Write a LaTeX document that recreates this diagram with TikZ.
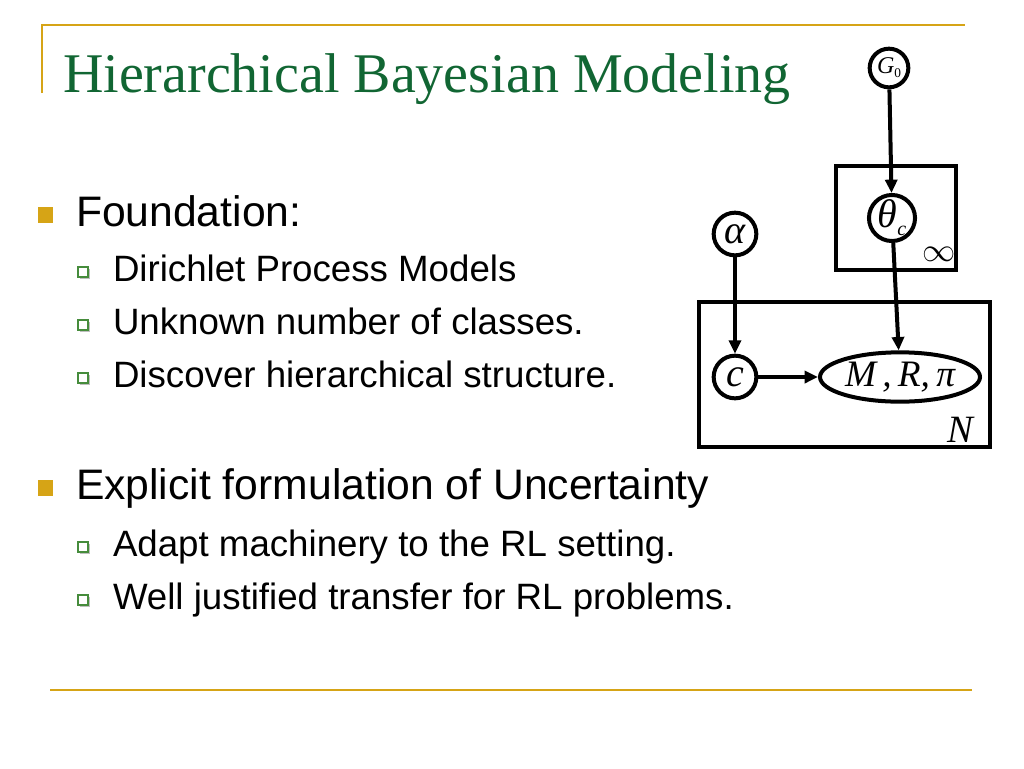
\documentclass[tikz,border=0pt]{standalone}
\usepackage{fontspec}
\setmainfont{Liberation Sans}
\newfontfamily\titlefont{Liberation Serif}
\usetikzlibrary{arrows.meta,shapes.geometric}
\definecolor{gold}{RGB}{214,164,22}
\definecolor{titlegreen}{RGB}{17,102,51}
\definecolor{subgreen}{RGB}{70,140,60}
\tikzset{
  txt/.style={anchor=base west,inner sep=0pt,outer sep=0pt},
  var/.style={circle,draw,minimum size=32pt,inner sep=0pt,font=\titlefont\itshape\fontsize{30}{30}\selectfont},
  link/.style={-{Triangle[length=10pt,width=9pt]}}
}
\begin{document}
\begin{tikzpicture}[x=0.75pt,y=0.75pt,yscale=-1,line width=3pt]
\useasboundingbox (0,0) rectangle (1024,768);

%Gold frame lines
\draw [color=gold,line width=1.5pt] (42,93) -- (42,25) -- (965,25) ;
\draw [color=gold,line width=1.5pt] (50,690) -- (972,690) ;

% Title
\node (title) [txt,color=titlegreen,font=\titlefont\fontsize{42}{42}\selectfont] at (63,92) {Hierarchical Bayesian Modeling};

% Bullets
\fill [color=gold] (38,207) rectangle (53,223) ;
\fill [color=gold] (38,480) rectangle (53,496) ;
\foreach \y in {280,333,386,555,608} {
  \fill [color=gray!50] (80,\y-11) rectangle (90,\y-1) ;
  \draw [color=subgreen,fill=white,line width=0.8pt] (78,\y-13) rectangle (88,\y-3) ;
}

% Text Node
\node (found) [txt,font=\fontsize{32}{32}\selectfont] at (76,226) {Foundation:};
\node (dpm) [txt,font=\fontsize{27.5}{27.5}\selectfont] at (113,281) {Dirichlet Process Models};
\node (unk) [txt,font=\fontsize{27.5}{27.5}\selectfont] at (113,334) {Unknown number of classes.};
\node (disc) [txt,font=\fontsize{27.5}{27.5}\selectfont] at (113,387) {Discover hierarchical structure.};
\node (expl) [txt,font=\fontsize{32}{32}\selectfont] at (76,499) {Explicit formulation of Uncertainty};
\node (adapt) [txt,font=\fontsize{27.5}{27.5}\selectfont] at (113,556) {Adapt machinery to the RL setting.};
\node (well) [txt,font=\fontsize{27.5}{27.5}\selectfont] at (113,609) {Well justified transfer for RL problems.};

% Plates
\draw (836,166) rectangle (956,270) ;
\draw (699,302) rectangle (990,447) ;
\node (inf) [font=\titlefont\fontsize{26}{26}\selectfont] at (939,254) {$\infty$};
\node (nlab) [font=\titlefont\itshape\fontsize{29}{29}\selectfont] at (960,430) {N};

% Variables
\node (g0) [var,minimum size=29pt] at (889,68) {\fontsize{18}{18}\selectfont G\raisebox{-3pt}{\upshape\fontsize{10}{10}\selectfont 0}};
\node (thetac) [var] at (892,218) {θ\raisebox{-6pt}{\fontsize{15}{15}\selectfont c}};
\node (alpha) [var] at (735,234) {α};
\node (cls) [var] at (735,377) {c};
\node (mrp) [var,ellipse,minimum width=120pt,minimum height=37pt,font=\titlefont\itshape\fontsize{28}{28}\selectfont] at (900,377) {M\,,\,R,\,π};

% Edges
\draw [link] (g0) -- (thetac) ;
\draw [link] (thetac) -- (mrp) ;
\draw [link] (alpha) -- (cls) ;
\draw [link] (cls) -- (mrp) ;

\end{tikzpicture}
\end{document}
